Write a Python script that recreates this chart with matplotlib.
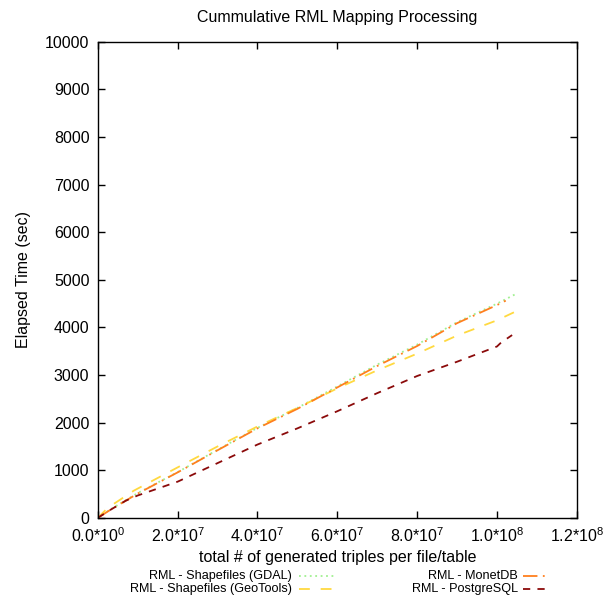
import numpy as np
import matplotlib
matplotlib.use('Agg')
from matplotlib import pyplot as plt
from matplotlib.lines import Line2D

plt.rcParams['font.family'] = ['Liberation Sans', 'DejaVu Sans']
plt.rcParams['mathtext.fontset'] = 'custom'
plt.rcParams['mathtext.rm'] = 'Liberation Sans'
plt.rcParams['mathtext.it'] = 'Liberation Sans'

##### data #####
x_gdal = [0, 0.3e7, 0.7e7, 1e7, 2e7, 3e7, 4e7, 5e7, 6e7, 7e7, 8e7, 9e7, 1e8, 1.051e8]
y_gdal = [0, 170, 370, 520, 960, 1430, 1890, 2310, 2760, 3220, 3640, 4110, 4500, 4719]

x_geo = [0, 0.25e7, 0.9e7, 2e7, 3e7, 4e7, 5e7, 6e7, 7e7, 8e7, 9e7, 1e8, 1.0425e8]
y_geo = [0, 210, 570, 1060, 1500, 1920, 2310, 2720, 3100, 3450, 3830, 4150, 4318]

x_monet = [0, 0.3e7, 0.7e7, 1e7, 2e7, 3e7, 4e7, 5e7, 6e7, 7e7, 8e7, 9e7, 1e8, 1.022e8]
y_monet = [0, 160, 360, 510, 955, 1420, 1880, 2290, 2740, 3190, 3610, 4090, 4470, 4563]

x_pg = [0, 0.3e7, 0.7e7, 1e7, 2e7, 3e7, 4e7, 5e7, 6e7, 7e7, 8e7, 9e7, 1e8, 1.01e8, 1.038e8]
y_pg = [0, 160, 360, 470, 760, 1150, 1540, 1880, 2240, 2620, 2980, 3280, 3600, 3680, 3840]

labels = ['RML - Shapefiles (GDAL)', 'RML - Shapefiles (GeoTools)',
          'RML - MonetDB', 'RML - PostgreSQL']
colors = ['#a0f090', '#ffd940', '#ff7f1e', '#8b0a0a']
styles = [(0, (1, 2)), (0, (6, 6)), (0, (8, 3, 1, 3)), (0, (4, 4))]

xticks = [0, 2e7, 4e7, 6e7, 8e7, 1e8, 1.2e8]
xticklabels = ['0.0*10$^{0}$', '2.0*10$^{7}$', '4.0*10$^{7}$', '6.0*10$^{7}$',
               '8.0*10$^{7}$', '1.0*10$^{8}$', '1.2*10$^{8}$']
yticks = np.arange(0, 10001, 1000)

##### plot #####
fig = plt.figure(figsize=(6.11, 5.98), dpi=100)
ax = fig.add_axes([0.160, 0.134, 0.784, 0.796])

series = [(x_gdal, y_gdal), (x_geo, y_geo), (x_monet, y_monet), (x_pg, y_pg)]
for (xs, ys), c, ls in zip(series, colors, styles):
    ax.plot(xs, ys, color=c, linestyle=ls, linewidth=1.3)

ax.set_xlim(0, 1.2e8)
ax.set_ylim(0, 10000)
ax.set_xticks(xticks)
ax.set_xticklabels(xticklabels)
ax.set_yticks(yticks)
ax.tick_params(direction='in', length=5, width=1, top=True, right=True,
               labelsize=11.5, pad=6)
for s in ax.spines.values():
    s.set_linewidth(1.0)
ax.set_title('Cummulative RML Mapping Processing', fontsize=11.5, pad=14)
ax.set_xlabel('total # of generated triples per file/table', fontsize=11.5, labelpad=4)
ax.set_ylabel('Elapsed Time (sec)', fontsize=11.5, labelpad=10)

##### legend (gnuplot style: text then sample) #####
W, H = 611.0, 598.0
rows = [576, 589]
cols = [(292, 299, 336), (518, 523, 548)]
for i, (lab, c, ls) in enumerate(zip(labels, colors, styles)):
    col = cols[i // 2]
    yy = 1 - rows[i % 2] / H
    fig.text(col[0] / W, yy, lab, ha='right', va='center', fontsize=9.1)
    fig.add_artist(Line2D([col[1] / W, col[2] / W], [yy, yy], transform=fig.transFigure,
                          color=c, linestyle=ls, linewidth=1.3))

plt.savefig('out.png', dpi=100)
